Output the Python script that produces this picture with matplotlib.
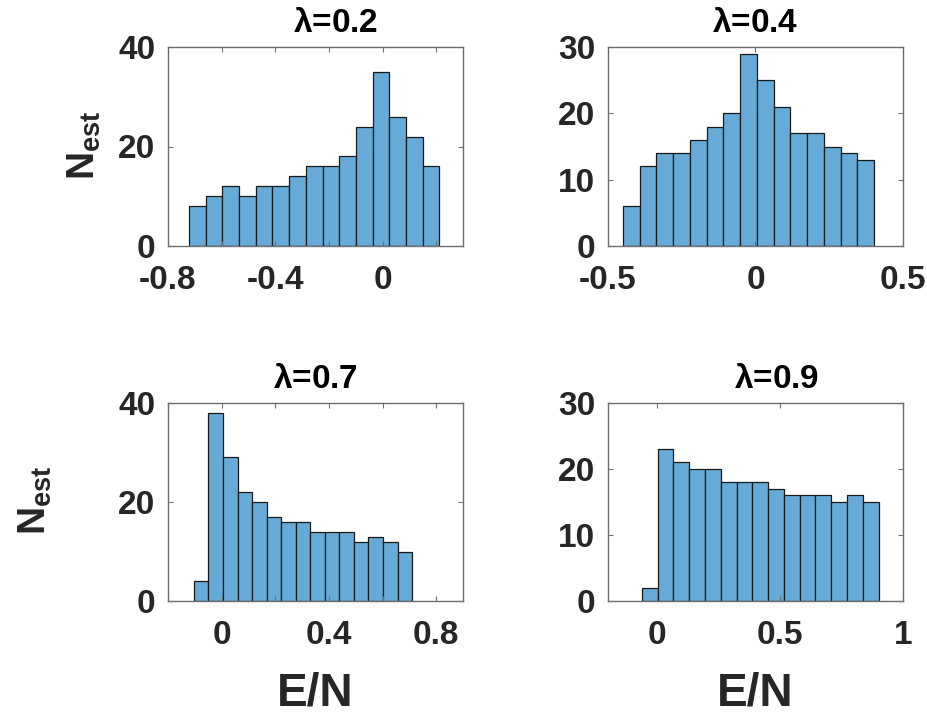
import numpy as np
import matplotlib
matplotlib.use("Agg")
from matplotlib import pyplot as plt

# histogram data (counts per bin, bin range)
lambdas = ["0.2", "0.4", "0.7", "0.9"]
counts_02 = [8, 10, 12, 10, 12, 12, 14, 16, 16, 18, 24, 35, 26, 22, 16]
counts_04 = [6, 12, 14, 14, 16, 18, 20, 29, 25, 21, 17, 17, 15, 14, 13]
counts_07 = [4, 38, 29, 22, 20, 17, 16, 16, 14, 14, 14, 12, 13, 12, 10]
counts_09 = [2, 23, 21, 20, 20, 18, 18, 18, 17, 16, 16, 16, 15, 16, 15]
bin_ranges = [(-0.7215, 0.2117), (-0.45, 0.4025), (-0.1035, 0.710), (-0.0627, 0.901)]

xlims = [(-0.8, 0.3), (-0.5, 0.5), (-0.2, 0.9), (-0.2, 1.0)]
ylims = [(0, 40), (0, 30), (0, 40), (0, 30)]
xticks = [[-0.8, -0.6, -0.4, -0.2, 0, 0.2], [-0.5, 0, 0.5],
          [-0.2, 0, 0.2, 0.4, 0.6, 0.8], [0, 0.5, 1]]
xticklabels = [["-0.8", "", "-0.4", "", "0", ""], ["-0.5", "0", "0.5"],
               ["", "0", "", "0.4", "", "0.8"], ["0", "0.5", "1"]]
yticks = [[0, 20, 40], [0, 10, 20, 30], [0, 20, 40], [0, 10, 20, 30]]
all_counts = [counts_02, counts_04, counts_07, counts_09]

plt.rcParams["font.family"] = ["Liberation Sans", "DejaVu Sans"]
plt.rcParams["font.weight"] = "bold"
plt.rcParams["mathtext.fontset"] = "custom"
plt.rcParams["mathtext.rm"] = "Liberation Sans"
plt.rcParams["mathtext.it"] = "Liberation Sans:italic"
plt.rcParams["mathtext.bf"] = "Liberation Sans:bold"

W, H = 928, 715
fig = plt.figure(figsize=(W / 100, H / 100), dpi=100)

face = (0.4, 0.668, 0.845)
text_col = "#262626"
spine_col = "#6e6e6e"

# axes boxes in pixels: left, top, right, bottom
boxes = [(168, 47, 463, 246), (608, 47, 903, 246),
         (168, 403, 463, 601), (608, 403, 903, 601)]
title_x = [0.568, 0.5, 0.5, 0.571]

for i, (l, t, r, b) in enumerate(boxes):
    ax = fig.add_axes([l / W, 1 - b / H, (r - l) / W, (b - t) / H])
    lo, hi = bin_ranges[i]
    edges = np.linspace(lo, hi, len(all_counts[i]) + 1)
    ax.bar(edges[:-1], all_counts[i], width=np.diff(edges), align="edge",
           color=face, edgecolor="#1a1a1a", linewidth=0.9)
    ax.set_xlim(*xlims[i])
    ax.set_ylim(*ylims[i])
    ax.set_xticks(xticks[i])
    ax.set_xticklabels(xticklabels[i])
    ax.set_yticks(yticks[i])
    ax.tick_params(direction="in", length=3.5, width=0.8, top=True, right=True,
                   labelsize=24, colors=spine_col, labelcolor=text_col)
    ax.tick_params(axis="x", pad=14)
    ax.tick_params(axis="y", pad=9)
    for s in ax.spines.values():
        s.set_color(spine_col)
        s.set_linewidth(1.0)
    ax.set_title(r"$\mathrm{\lambda}$=" + lambdas[i], fontsize=24, fontweight="bold",
                 color="black", pad=11, x=title_x[i])

# y labels
fig.text(84 / W, 1 - 145 / H, r"N$_{\mathbf{est}}$", rotation=90, ha="center",
         va="center", fontsize=28, fontweight="bold", color=text_col)
fig.text(35 / W, 1 - 500 / H, r"N$_{\mathbf{est}}$", rotation=90, ha="center",
         va="center", fontsize=28, fontweight="bold", color=text_col)

# x labels
for cx in (315, 755):
    fig.text(cx / W, 10 / H, "E/N", ha="center", va="baseline",
             fontsize=33, fontweight="bold", color=text_col)

fig.savefig("out.png", dpi=100, facecolor="white")
